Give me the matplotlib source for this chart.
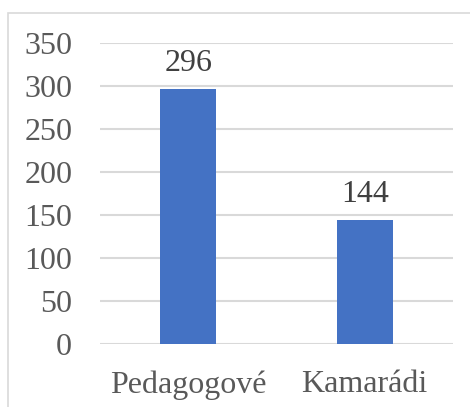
import matplotlib
matplotlib.use("Agg")
import matplotlib.pyplot as plt
from matplotlib.patches import Rectangle

categories = ["Pedagogové", "Kamarádi"]
values = [296, 144]
yticks = [0, 50, 100, 150, 200, 250, 300, 350]

plt.rcParams['font.family'] = ['Liberation Serif', 'DejaVu Serif']

W, H = 470, 407
fig = plt.figure(figsize=(W/100, H/100), dpi=100)
fig.patch.set_facecolor('white')

# chart border
fig.patches.append(Rectangle((8/W, -0.1), 1.2, (H-13)/H + 0.1, transform=fig.transFigure,
                             fill=False, edgecolor='#d9d9d9', linewidth=1.2))

ax = fig.add_axes([100/W, 1-344/H, (453-100)/W, (344-43)/H])
x = range(len(categories))
bars = ax.bar(x, values, width=0.315, color='#4472C4', zorder=3)
ax.set_xlim(-0.5, len(categories)-0.5)
ax.set_ylim(0, 350)
ax.set_yticks(yticks)
ax.set_xticks(list(x))
ax.set_xticklabels(categories)
ax.yaxis.grid(True, color='#d9d9d9', linewidth=1.5, zorder=0)
ax.set_axisbelow(True)
for s in ax.spines.values():
    s.set_visible(False)
ax.tick_params(axis='both', length=0, labelsize=23, labelcolor='#595959')
ax.tick_params(axis='y', pad=20)
ax.tick_params(axis='x', pad=19)
for b, v in zip(bars, values):
    ax.annotate(str(v), (b.get_x()+b.get_width()/2, v), xytext=(0, 8),
                textcoords='offset points', ha='center', va='bottom',
                fontsize=23, color='#404040')

fig.savefig('out.png', dpi=100)
